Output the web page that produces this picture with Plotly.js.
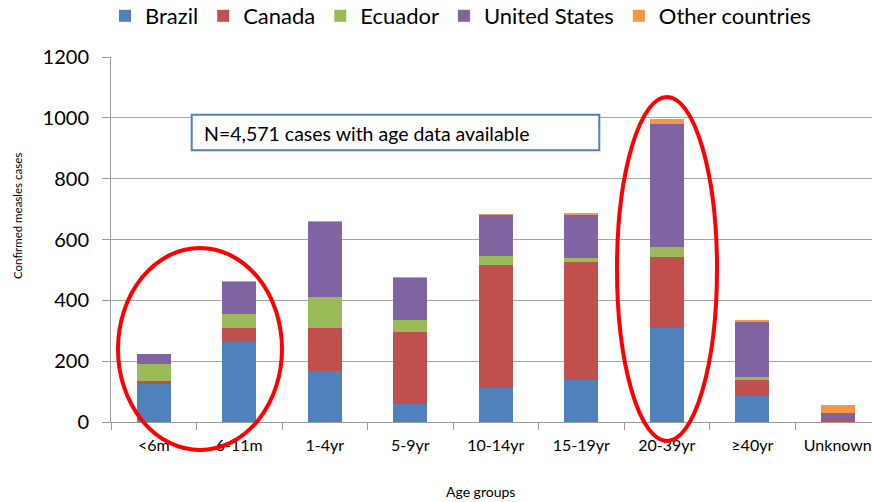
<!DOCTYPE html>
<html>
<head>
<meta charset="utf-8">
<script src="https://cdn.plot.ly/plotly-3.0.1.min.js"></script>
<style>html,body{margin:0;padding:0;background:#fff;}#chart{width:872px;height:502px;}</style>
</head>
<body>
<div id="chart"></div>
<script>
const categories = ['<6m', '6-11m', '1-4yr', '5-9yr', '10-14yr', '15-19yr', '20-39yr', '≥40yr', 'Unknown'];
const brazil  = [126, 264, 168,  58, 113, 137, 310,  86,  0];
const canada  = [  9,  44, 141, 238, 402, 388, 232,  51,  9];
const ecuador = [ 57,  48, 103,  38,  30,  15,  32,  11,  0];
const unitedStates = [30, 103, 245, 139, 135, 140, 405, 180, 21];
const otherCountries = [3, 3, 3, 5, 3, 8, 16, 6, 25];
const yTicks = [0, 200, 400, 600, 800, 1000, 1200];

const seriesNames = ['Brazil', 'Canada', 'Ecuador', 'United States', 'Other countries'];
const seriesValues = [brazil, canada, ecuador, unitedStates, otherCountries];
const seriesColors = ['#4F81BD', '#C0504D', '#9BBB59', '#8064A2', '#F79646'];

const traces = seriesNames.map((name, i) => ({
  type: 'bar',
  name: name,
  x: categories,
  y: seriesValues[i],
  marker: {color: seriesColors[i], line: {width: 0}},
  hoverinfo: 'x+y+name'
}));

// plot area in pixels: left 111, top 57, width 761, height 365
const L = 111, T = 57, W = 761, H = 365;
const px = v => (v - L) / W;
const py = v => (T + H - v) / H;

const font = 'Lato, "Open Sans", sans-serif';

const layout = {
  width: 872,
  height: 502,
  margin: {l: L, r: 0, t: T, b: 502 - T - H, pad: 0, autoexpand: false},
  paper_bgcolor: '#fff',
  plot_bgcolor: '#fff',
  barmode: 'stack',
  bargap: 0.6,
  font: {family: font, color: '#000'},
  showlegend: true,
  legend: {
    orientation: 'h',
    traceorder: 'normal',
    x: px(105), xanchor: 'left',
    y: py(-5), yanchor: 'top',
    font: {family: font, size: 22, color: '#000'},
    bgcolor: 'rgba(0,0,0,0)'
  },
  xaxis: {
    type: 'category',
    range: [-0.5, 8.4],
    showline: true, linecolor: '#9a9a9a', linewidth: 1,
    ticks: 'outside', tickson: 'boundaries', ticklen: 7, tickcolor: '#9a9a9a',
    ticklabelstandoff: 9,
    tickfont: {family: font, size: 16, color: '#000'},
    showgrid: false, zeroline: false,
    fixedrange: true
  },
  yaxis: {
    range: [0, 1200],
    tickvals: yTicks,
    ticktext: yTicks.map(String),
    showline: true, linecolor: '#9a9a9a', linewidth: 1,
    ticks: 'outside', ticklen: 8, tickcolor: '#9a9a9a',
    ticklabelstandoff: 9,
    tickfont: {family: font, size: 20, color: '#000'},
    showgrid: true, gridcolor: '#a6a6a6', gridwidth: 1,
    zeroline: false,
    fixedrange: true
  },
  shapes: [
    {type: 'rect', xref: 'paper', yref: 'paper', layer: 'above',
     x0: px(191.7), x1: px(599.3), y0: py(150.3), y1: py(114.7),
     fillcolor: '#fff', line: {color: '#4F81BD', width: 2}},
    {type: 'circle', xref: 'paper', yref: 'paper', layer: 'above',
     x0: px(118), x1: px(282), y0: py(450), y1: py(248),
     line: {color: '#FF0000', width: 4}},
    {type: 'circle', xref: 'paper', yref: 'paper', layer: 'above',
     x0: px(617), x1: px(717), y0: py(441), y1: py(97),
     line: {color: '#FF0000', width: 4}}
  ],
  annotations: [
    {text: 'N=4,571 cases with age data available', xref: 'paper', yref: 'paper',
     x: px(201.7), y: py(133), xanchor: 'left', yanchor: 'middle', showarrow: false,
     font: {family: font, size: 19.5, color: '#000'}},
    {text: 'Confirmed measles cases', xref: 'paper', yref: 'paper',
     x: px(17), y: py(216), xanchor: 'center', yanchor: 'middle', textangle: -90, showarrow: false,
     font: {family: font, size: 11.5, color: '#000'}},
    {text: 'Age groups', xref: 'paper', yref: 'paper',
     x: px(480), y: py(492), xanchor: 'center', yanchor: 'middle', showarrow: false,
     font: {family: font, size: 14, color: '#000'}}
  ]
};

Plotly.newPlot('chart', traces, layout, {displayModeBar: false, staticPlot: true});
</script>
</body>
</html>
